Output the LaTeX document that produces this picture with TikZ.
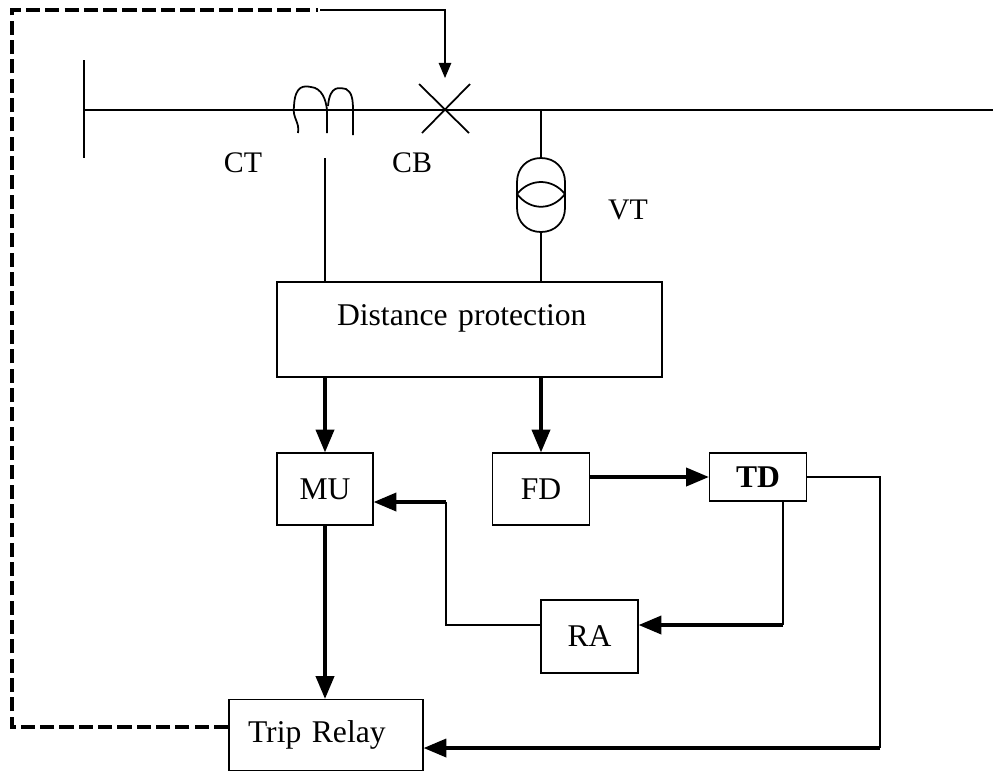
\documentclass[tikz,border=0pt]{standalone}
\usepackage{fontspec}
\setmainfont{Liberation Serif}
\usetikzlibrary{arrows}
\usetikzlibrary{positioning}
\tikzset{
	box/.style={draw,line width=1pt,inner sep=0pt,font=\fontsize{18}{20}\selectfont},
	tag/.style={inner sep=0pt,font=\fontsize{17}{20}\selectfont},
	wire/.style={line width=1pt},
	flow/.style={line width=2pt,-triangle 45},
	trip/.style={line width=1.8pt,dash pattern=on 8pt off 3pt}
}
\begin{document}
\begin{tikzpicture}
	[x=0.02cm,y=-0.02cm]
	\useasboundingbox (0,0) rectangle (993,772);
	% blocks
	\node[box,text width=7.7cm,align=left,minimum height=1.9cm,text height=25pt,text depth=29pt] (dist) at (469.5,329.5) {\hspace*{1.2cm}Distance protection};
	\node[box,minimum width=1.92cm,minimum height=1.44cm] (mu) at (325,489) {MU};
	\node[box,minimum width=1.94cm,minimum height=1.44cm] (fd) at (541,489) {FD};
	\node[box,minimum width=1.94cm,minimum height=0.96cm] (td) at (758,477) {\textbf{TD}};
	\node[box,minimum width=1.94cm,minimum height=1.46cm] (ra) at (589.5,636.5) {RA};
	\node[box,text width=3.88cm,align=left,minimum height=1.42cm] (trelay) at (326,735) {\hspace*{0.38cm}Trip Relay};
	% labels
	\node[tag] (ctlabel) at (243,163) {CT};
	\node[tag] (cblabel) at (412,163) {CB};
	\node[tag] (vtlabel) at (628,210) {VT};
	% bus
	\coordinate (busl) at (84,110);
	\coordinate (busr) at (993,110);
	\coordinate (cb) at (445,110);
	\coordinate (vttap) at (541,110);
	\coordinate (vttop) at (541,158);
	\coordinate (vtbot) at (541,232);
	\coordinate (ctlead) at (325,158);
	\draw[wire] (busl) -- (busr);
	\draw[wire] (84,60) -- (84,158);
	% CT
	\draw[wire] (298,133) .. controls (300,122) and (292,118) .. (294,106) .. controls (295,84) and (305,86) .. (311,87) .. controls (322,88) and (326,100) .. (327,110) -- (327,133);
	\draw[wire] (328,106) .. controls (330,84) and (340,88) .. (346,89) .. controls (352,92) and (353,100) .. (353,110) -- (353,135);
	\draw[wire] (ctlead) -- (dist.north -| ctlead);
	% CB
	\draw[wire] (419,84) -- (469,133);
	\draw[wire] (470,84) -- (422,133);
	% VT
	\draw[wire] (vttap) -- (vttop);
	\draw[wire] (vttop) .. controls (555,158) and (565,168) .. (565,182) -- (565,208) .. controls (565,222) and (555,232) .. (vtbot) .. controls (527,232) and (517,222) .. (517,208) -- (517,182) .. controls (517,168) and (527,158) .. (vttop) -- cycle;
	\draw[wire] (517,194) .. controls (530,178) and (552,178) .. (565,194) .. controls (552,211) and (530,211) .. (517,194) -- cycle;
	\draw[wire] (vtbot) -- (dist.north -| vtbot);
	% signals
	\draw[flow] (dist.south -| mu) -- (mu.north);
	\draw[flow] (dist.south -| fd) -- (fd.north);
	\draw[flow] (fd.east |- td) -- (td.west);
	\draw[flow] (mu.south) -- (mu.south |- trelay.north);
	\coordinate (tdleft) at (783,501);
	\coordinate (tdbend) at (783,625);
	\draw[wire] (tdleft) -- (tdbend);
	\draw[flow] (tdbend) -- (ra.east |- tdbend);
	\coordinate (raout) at (541,625);
	\coordinate (rabend) at (446,625);
	\coordinate (mubend) at (446,502);
	\draw[wire] (raout) -- (rabend) -- (mubend);
	\draw[flow] (mubend) -- (mu.east |- mubend);
	\coordinate (tdbendr) at (880,477);
	\coordinate (trbend) at (880,748);
	\draw[wire] (td.east) -- (tdbendr) -- (trbend);
	\draw[flow] (trbend) -- (trelay.east |- trbend);
	% trip path
	\coordinate (tripa) at (12,727);
	\coordinate (tripb) at (12,10);
	\coordinate (tripc) at (318,10);
	\coordinate (tripd) at (320,10);
	\coordinate (tripe) at (445,10);
	\coordinate (tripf) at (445,78);
	\draw[trip] (trelay.west |- tripa) -- (tripa) -- (tripb) -- (tripc);
	\draw[wire,-triangle 45] (tripd) -- (tripe) -- (tripf);
\end{tikzpicture}
\end{document}
